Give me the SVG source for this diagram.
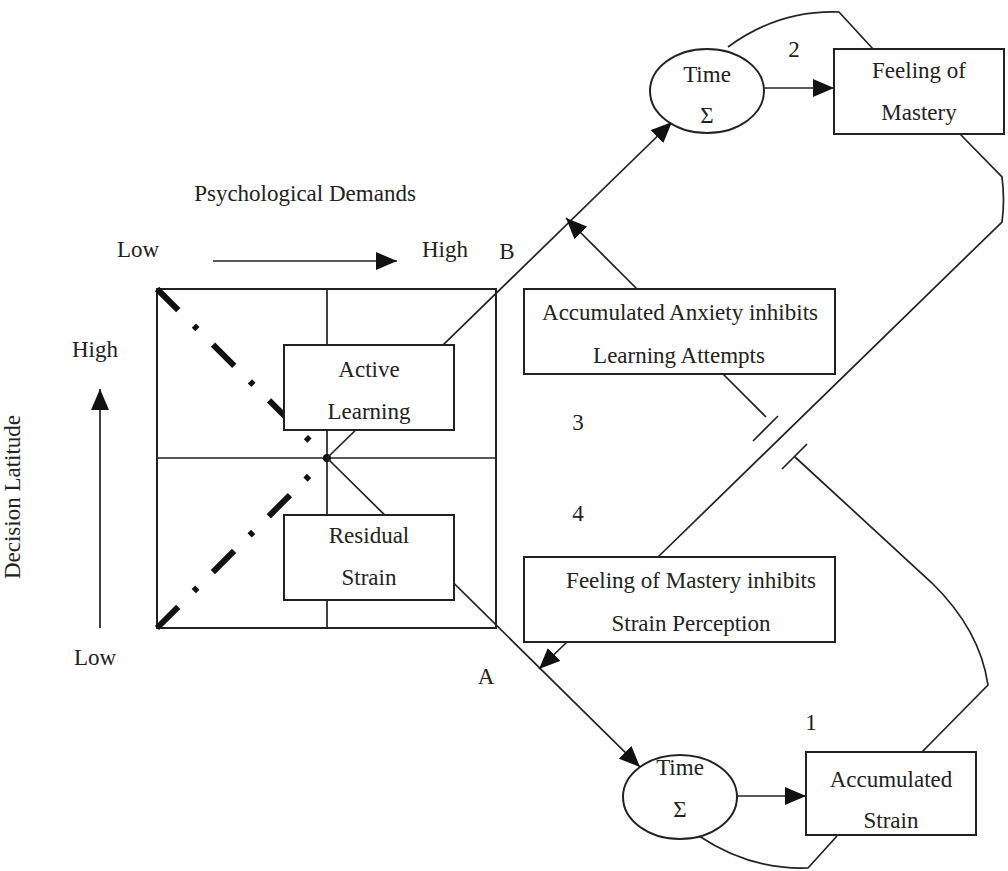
<svg xmlns="http://www.w3.org/2000/svg" width="1008" height="871" viewBox="0 0 1008 871">
<style>
text{font-family:"Liberation Serif","Times New Roman",serif;font-size:23px;fill:#222;text-anchor:middle}
.b{fill:#fff;stroke:#222;stroke-width:2}
.l{fill:none;stroke:#222;stroke-width:1.7}
.dd{fill:none;stroke:#111;stroke-width:6;stroke-dasharray:30 22 5 22}
</style>
<defs>
<marker id="ar" viewBox="0 0 21 18" refX="21" refY="9" markerWidth="21" markerHeight="18" markerUnits="userSpaceOnUse" orient="auto"><path d="M0,0 L21,9 L0,18 Z" fill="#111"/></marker>
</defs>
<g id="axes">
<text x="305" y="201">Psychological Demands</text>
<text x="138" y="257">Low</text>
<text x="445" y="257">High</text>
<line class="l" x1="213" y1="261" x2="397" y2="261" marker-end="url(#ar)"/>
<text x="95" y="357">High</text>
<text x="95" y="665">Low</text>
<line class="l" x1="100" y1="628" x2="100" y2="389" marker-end="url(#ar)"/>
<text transform="translate(20,497) rotate(-90)">Decision Latitude</text>
</g>
<g id="quadrant">
<rect class="l" x="157" y="289" width="339" height="339" style="stroke-width:2"/>
<line class="l" x1="327" y1="289" x2="327" y2="628"/>
<line class="l" x1="157" y1="458" x2="496" y2="458"/>
<line class="dd" x1="157" y1="289" x2="327" y2="458"/>
<line class="dd" x1="157" y1="628" x2="327" y2="458"/>
<circle cx="327" cy="458" r="4" fill="#111"/>
</g>
<g id="connectors">
<line class="l" x1="327" y1="458" x2="672" y2="122" marker-end="url(#ar)"/>
<line class="l" x1="327" y1="458" x2="640" y2="767" marker-end="url(#ar)"/>
<line class="l" x1="764" y1="88" x2="834" y2="88" marker-end="url(#ar)"/>
<line class="l" x1="737" y1="796" x2="806" y2="796" marker-end="url(#ar)"/>
<line class="l" x1="637" y1="289" x2="566" y2="218" marker-end="url(#ar)"/>
<line class="l" x1="567" y1="642" x2="539" y2="669" marker-end="url(#ar)"/>
<path class="l" d="M728,47 Q778,10 839,12 L873,49"/>
<path class="l" d="M960,134 L1002,177 Q1005,200 1002,222 L658,557"/>
<path class="l" d="M723,374 L766,417 M753,441 L778,416"/>
<path class="l" d="M782,469 L807,444 M795,457 L932,583 Q980,630 988,685 L922,752"/>
<path class="l" d="M699,836 Q750,870 808,868 L837,836"/>
</g>
<g id="active-learning">
<rect class="b" x="284" y="345" width="170" height="85"/>
<text x="369" y="377">Active</text>
<text x="369" y="419">Learning</text>
</g>
<g id="residual-strain">
<rect class="b" x="284" y="515" width="170" height="85"/>
<text x="369" y="543">Residual</text>
<text x="369" y="585">Strain</text>
</g>
<g id="time-top">
<ellipse class="b" cx="707" cy="91" rx="57" ry="42"/>
<text x="707" y="82">Time</text>
<text x="707" y="123">Σ</text>
</g>
<g id="feeling-of-mastery">
<rect class="b" x="834" y="49" width="170" height="85"/>
<text x="919" y="78">Feeling of</text>
<text x="919" y="120">Mastery</text>
</g>
<g id="anxiety-inhibits">
<rect class="b" x="524" y="289" width="311" height="85"/>
<text x="680" y="320">Accumulated Anxiety inhibits</text>
<text x="679" y="363">Learning Attempts</text>
</g>
<g id="mastery-inhibits">
<rect class="b" x="524" y="557" width="311" height="85"/>
<text x="691" y="588">Feeling of Mastery inhibits</text>
<text x="691" y="631">Strain Perception</text>
</g>
<g id="time-bottom">
<ellipse class="b" cx="680" cy="797" rx="57" ry="42"/>
<text x="680" y="775">Time</text>
<text x="680" y="817">Σ</text>
</g>
<g id="accumulated-strain">
<rect class="b" x="806" y="752" width="170" height="83"/>
<text x="891" y="787">Accumulated</text>
<text x="891" y="828">Strain</text>
</g>
<g id="labels">
<text x="507" y="259">B</text>
<text x="486" y="684">A</text>
<text x="578" y="430">3</text>
<text x="578" y="521">4</text>
<text x="794" y="57">2</text>
<text x="811" y="730">1</text>
</g>
</svg>
